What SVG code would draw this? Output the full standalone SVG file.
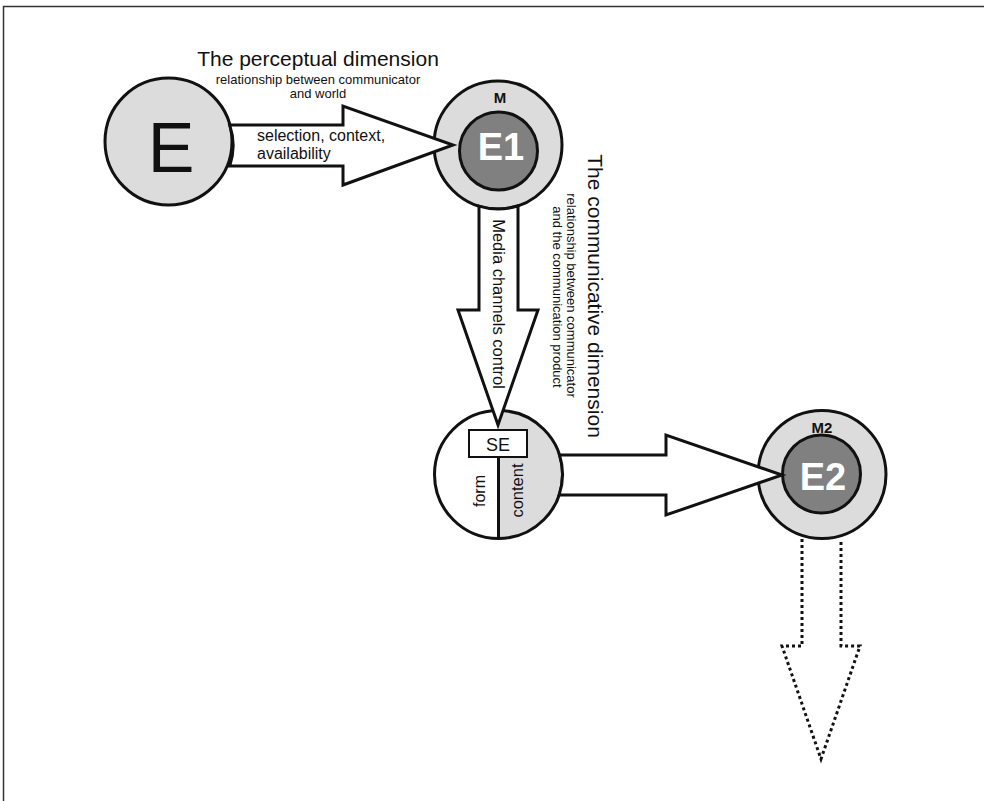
<svg xmlns="http://www.w3.org/2000/svg" width="984" height="801" viewBox="0 0 984 801">
<style>
  text { font-family: "Liberation Sans", Arial, sans-serif; fill: #111; }
  .outer { fill: #dcdcdc; stroke: #111; stroke-width: 3; }
  .inner { fill: #808080; stroke: #111; stroke-width: 3; }
  .arrow { fill: #fff; stroke: #111; stroke-width: 3; stroke-linejoin: miter; }
  .dotted { fill: none; stroke: #111; stroke-width: 3; stroke-dasharray: 3 3; }
  .lbl { font-weight: bold; font-size: 15px; text-anchor: middle; }
  .big { font-weight: bold; font-size: 38px; text-anchor: middle; fill: #fff; }
  .t16 { font-size: 16px; }
  .sub { font-size: 13px; text-anchor: middle; }
  .title { font-size: 21px; text-anchor: middle; }
</style>
<rect x="3.5" y="6.5" width="1000" height="1000" fill="#fff" stroke="#333" stroke-width="1.5"/>

<g id="node-E">
  <circle class="outer" cx="168.5" cy="141.5" r="63.5"/>
  <text x="171" y="172" font-size="70" text-anchor="middle">E</text>
</g>

<g id="node-M-E1">
  <circle class="outer" cx="498" cy="145" r="64"/>
  <circle class="inner" cx="498.5" cy="151" r="39"/>
  <text class="lbl" x="500" y="103">M</text>
  <text class="big" x="501" y="160">E1</text>
</g>

<g id="node-SE">
  <circle cx="498.5" cy="474.5" r="64" fill="#fff"/>
  <path d="M498.5,410.5 A64,64 0 0 1 498.5,538.5 Z" fill="#dcdcdc"/>
  <circle cx="498.5" cy="474.5" r="64" fill="none" stroke="#111" stroke-width="3"/>
  <line x1="498.5" y1="457" x2="498.5" y2="538.5" stroke="#111" stroke-width="3"/>
  <rect x="469" y="430" width="58" height="27" fill="#fff" stroke="#111" stroke-width="2"/>
  <text x="498" y="451" font-size="18" text-anchor="middle">SE</text>
  <text transform="translate(485,491) rotate(-90)" font-size="16" text-anchor="middle">form</text>
  <text transform="translate(523,490.5) rotate(-90)" font-size="16.5" text-anchor="middle">content</text>
</g>

<g id="node-M2-E2">
  <circle class="outer" cx="822" cy="474.5" r="64"/>
  <circle class="inner" cx="821.5" cy="474" r="39"/>
  <text class="lbl" x="822" y="433">M2</text>
  <text class="big" x="823" y="490">E2</text>
</g>

<g id="connectors">
  <path class="arrow" d="M229.7,125 L343,125 L343,106 L453,145 L343,185 L343,166 L229.7,166 A63.5,63.5 0 0 0 229.7,125 Z"/>
  <path class="arrow" d="M479,206.1 L479,310 L458,310 L498,425 L538,310 L518,310 L518,205.8 A64,64 0 0 1 479,206.1 Z"/>
  <path class="arrow" d="M559.5,455 L666,455 L666,435 L782,475 L666,515 L666,495 L559.1,495 A64,64 0 0 0 559.5,455 Z"/>
  <path class="dotted" d="M802,539 L802,646 L782,646 L821,759 L860,646 L841,646 L841,539"/>
</g>

<g id="labels">
  <text class="title" x="318" y="66">The perceptual dimension</text>
  <text class="sub" x="318" y="84">relationship between communicator</text>
  <text class="sub" x="318" y="98">and world</text>
  <text class="t16" x="257" y="141">selection, context,</text>
  <text class="t16" x="257" y="159">availability</text>
  <text transform="translate(493,304) rotate(90)" font-size="16.5" text-anchor="middle">Media channels control</text>
  <text transform="translate(588,296) rotate(90)" font-size="21" text-anchor="middle">The communicative dimension</text>
  <text class="sub" transform="translate(567,295.5) rotate(90)">relationship between communicator</text>
  <text class="sub" transform="translate(553,297) rotate(90)">and the communication product</text>
</g>
</svg>
